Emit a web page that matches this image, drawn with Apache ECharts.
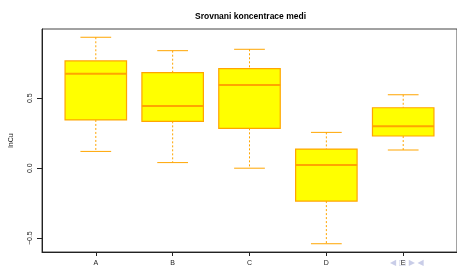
<!DOCTYPE html>
<html>
<head>
<meta charset="utf-8">
<script src="https://cdn.jsdelivr.net/npm/echarts@6/dist/echarts.min.js"></script>
<style>
  html, body { margin: 0; padding: 0; background: #fff; }
  #main { width: 457px; height: 267px; }
</style>
</head>
<body>
<div id="main"></div>
<script>
// data
var categories = ['A', 'B', 'C', 'D', 'E'];
var lowerWhisker = [0.12, 0.04, 0.0, -0.54, 0.13];
var q1 = [0.345, 0.335, 0.285, -0.235, 0.23];
var medians = [0.675, 0.445, 0.595, 0.022, 0.30];
var q3 = [0.767, 0.683, 0.712, 0.137, 0.432];
var upperWhisker = [0.936, 0.84, 0.85, 0.256, 0.525];
var yTicks = [-0.5, 0, 0.5];
var xTicks = [1, 2, 3, 4, 5];

var boxData = categories.map(function (c, i) {
  return [i + 1, lowerWhisker[i], q1[i], medians[i], q3[i], upperWhisker[i]];
});

var orange = '#ffa500';

function renderBox(params, api) {
  var x = api.value(0);
  var pLow = api.coord([x, api.value(1)]);
  var pQ1 = api.coord([x, api.value(2)]);
  var pMed = api.coord([x, api.value(3)]);
  var pQ3 = api.coord([x, api.value(4)]);
  var pHigh = api.coord([x, api.value(5)]);
  var boxW = api.size([0.8, 0])[0];
  var capW = api.size([0.4, 0])[0];
  var cx = pMed[0];
  var dashed = { stroke: orange, lineWidth: 1, lineDash: [2, 2] };
  var solid = { stroke: orange, lineWidth: 1 };
  return {
    type: 'group',
    children: [
      { type: 'line', shape: { x1: cx, y1: pHigh[1], x2: cx, y2: pQ3[1] }, style: dashed },
      { type: 'line', shape: { x1: cx, y1: pQ1[1], x2: cx, y2: pLow[1] }, style: dashed },
      { type: 'line', shape: { x1: cx - capW / 2, y1: pHigh[1], x2: cx + capW / 2, y2: pHigh[1] }, style: solid },
      { type: 'line', shape: { x1: cx - capW / 2, y1: pLow[1], x2: cx + capW / 2, y2: pLow[1] }, style: solid },
      { type: 'rect', shape: { x: cx - boxW / 2, y: pQ3[1], width: boxW, height: pQ1[1] - pQ3[1] },
        style: { fill: '#ffff00', stroke: orange, lineWidth: 1.2 } },
      { type: 'line', shape: { x1: cx - boxW / 2, y1: pMed[1], x2: cx + boxW / 2, y2: pMed[1] },
        style: { stroke: orange, lineWidth: 2 } }
    ]
  };
}

var myChart = echarts.init(document.getElementById('main'));

var option = {
  animation: false,
  title: {
    text: 'Srovnani koncentrace medi',
    left: 190,
    top: 7,
    textStyle: { fontFamily: 'Liberation Sans', fontSize: 8.5, fontWeight: 'bold', color: '#000' }
  },
  grid: {
    left: 41, top: 29, width: 418, height: 223,
    show: true, borderColor: '#444', borderWidth: 1, backgroundColor: 'transparent'
  },
  xAxis: {
    type: 'value',
    min: 0.3, max: 5.7,
    splitLine: { show: false },
    axisLine: { show: true, onZero: false, lineStyle: { color: '#222', width: 1 } },
    axisTick: { show: true, length: 4, customValues: xTicks, lineStyle: { color: '#222' } },
    axisLabel: {
      customValues: xTicks,
      margin: 8,
      fontFamily: 'Liberation Sans', fontSize: 7, color: '#222',
      formatter: function (v) { return categories[Math.round(v) - 1]; }
    }
  },
  yAxis: {
    type: 'value',
    min: -0.599, max: 0.995,
    name: 'lnCu',
    nameLocation: 'middle',
    nameRotate: 90,
    nameGap: 27,
    nameTextStyle: { fontFamily: 'Liberation Sans', fontSize: 7, color: '#222' },
    splitLine: { show: false },
    axisLine: { show: true, onZero: false, lineStyle: { color: '#222', width: 1 } },
    axisTick: { show: true, length: 5, customValues: yTicks, lineStyle: { color: '#222' } },
    axisLabel: {
      customValues: yTicks,
      rotate: 90,
      margin: 8,
      fontFamily: 'Liberation Sans', fontSize: 7, color: '#222',
      formatter: function (v) { return v === 0 ? '0.0' : (v < 0 ? '\u2212' + Math.abs(v).toFixed(1) : v.toFixed(1)); }
    }
  },
  graphic: [
    {
      type: 'text', left: 390, top: 259,
      style: { text: '\u25C0 \u25A1 \u25B6 \u25C0', fill: '#c9cde8', font: '8px DejaVu Sans' }
    }
  ],
  series: [
    {
      type: 'custom',
      renderItem: renderBox,
      encode: { x: 0, y: [1, 2, 3, 4, 5] },
      data: boxData,
      clip: false
    }
  ]
};

myChart.setOption(option);

window.onresize = () => {
  myChart.resize()
}
</script>
</body>
</html>
